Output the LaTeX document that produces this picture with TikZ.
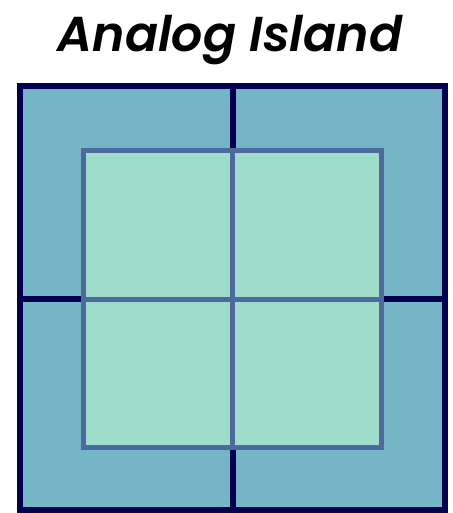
\documentclass[tikz,border=0pt]{standalone}
\usepackage{fontspec}
\setmainfont{Poppins}[BoldItalicFont={Poppins SemiBold Italic}]
\definecolor{islandout}{HTML}{74B6C7}
\definecolor{islandin}{HTML}{9FDCCB}
\definecolor{navyline}{HTML}{00004F}
\definecolor{steelline}{HTML}{4C6B9C}

\begin{document}
\begin{tikzpicture}[x=1pt,y=-1pt]
        \useasboundingbox (0,0) rectangle (452,513);
        \node (title) at (230,40) {\fontsize{49}{60}\selectfont\bfseries\itshape Analog Island};
        % outer ring with the cross
        \begin{scope}[line width=6pt,draw=navyline]
        \coordinate (NW) at (20,86);
        \coordinate (SE) at (445,510);
        \filldraw[fill=islandout] (NW) rectangle (SE);
        \draw (232.5,86) -- (232.5,510);
        \draw (20,299) -- (445,299);
        \end{scope}
        % inner square
        \begin{scope}[line width=5pt,draw=steelline]
        \coordinate (nw) at (83.5,150.5);
        \coordinate (se) at (381,447);
        \filldraw[fill=islandin] (nw) rectangle (se);
        \draw (232.5,150.5) -- (232.5,447);
        \draw (83.5,299) -- (381,299);
        \end{scope}
    \end{tikzpicture}
\end{document}
